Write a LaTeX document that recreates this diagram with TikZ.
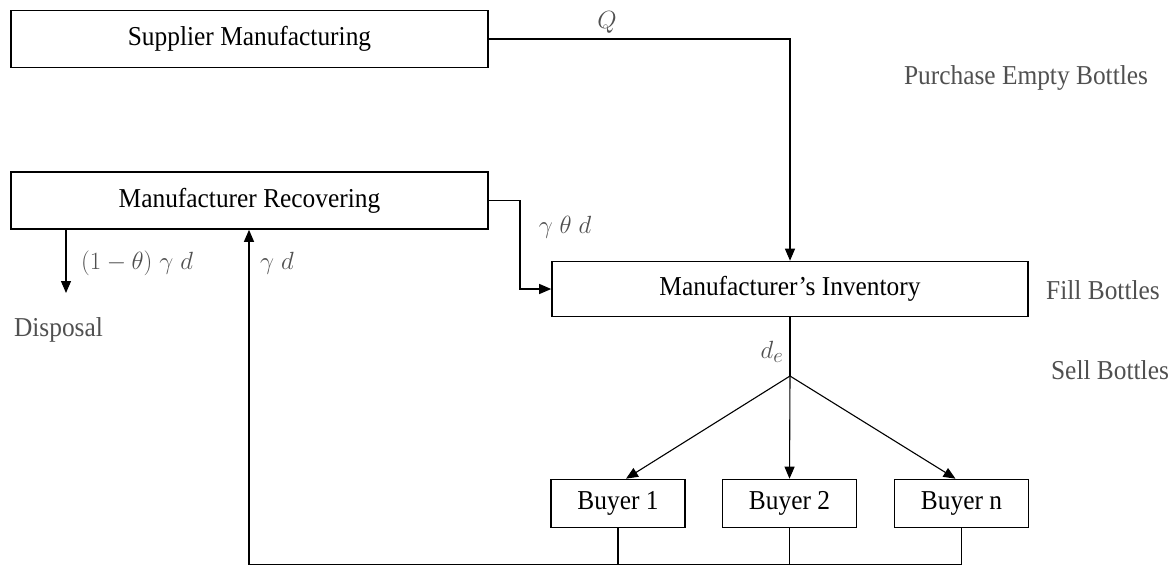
\documentclass[tikz,border=0pt]{standalone}
\usepackage{fontspec}
\setmainfont{Liberation Serif}[FakeStretch=0.93]
\usetikzlibrary{arrows.meta}
\definecolor{labelgrey}{RGB}{80,80,80}
\tikzset{
  boxnode/.style={draw, line width=1.6pt, inner sep=0pt, align=center,
    font=\fontsize{27.3}{32}\selectfont},
  mainbox/.style={boxnode, minimum width=477pt, minimum height=57pt},
  invbox/.style={boxnode, minimum width=476pt, minimum height=55pt},
  buyerbox/.style={boxnode, minimum width=134pt, minimum height=48pt},
  flow/.style={line width=1.1pt},
  arr/.style={flow, -{Triangle[length=12pt,width=10pt]}},
  sidelabel/.style={text=labelgrey, inner sep=0pt, font=\fontsize{27.3}{32}\selectfont},
  mathlabel/.style={text=labelgrey, inner sep=0pt, font=\fontsize{26}{30}\selectfont}
}
\begin{document}
\begin{tikzpicture}[x=1pt,y=-1pt]
\useasboundingbox (0,0) rectangle (1169,566);
% boxes
\node[mainbox] (sup) at (249.5,39) {Supplier Manufacturing};
\node[mainbox] (rec) at (249.5,200.5) {Manufacturer Recovering};
\node[invbox] (inv) at (790,289) {Manufacturer’s Inventory};
\node[buyerbox] (b1) at (618,503.5) {Buyer 1};
\node[buyerbox] (b2) at (789.5,503.5) {Buyer 2};
\node[buyerbox] (bn) at (961.5,503.5) {Buyer n};
% side labels
\node[sidelabel] (pur) at (1026,78) {Purchase Empty Bottles};
\node[sidelabel] (fill) at (1103,290) {Fill Bottles};
\node[sidelabel] (sell) at (1110,370) {Sell Bottles};
\node[sidelabel] (disp) at (58.5,330) {Disposal};
% coordinates
\coordinate (J) at (790,376);
\coordinate (ret) at (249,564.5);
\coordinate (dend) at (66,293);
\coordinate (gtd) at (520,200.5);
% connectors
\draw[arr] (sup.east) -| (inv.north);
\draw[arr] (rec.east) -- (gtd) |- (inv.west);
\draw[arr] (rec.south -| dend) -- (dend);
\draw[flow] (inv.south) -- (J);
\draw[arr] (J) -- ([xshift=8pt]b1.north);
\draw[arr] (J) -- (b2.north);
\draw[arr] (J) -- ([xshift=-6pt]bn.north);
\draw[flow] (b1.south) -- (b1.south |- ret);
\draw[flow] (b2.south) -- (b2.south |- ret);
\draw[arr] (bn.south) |- (ret) -- (ret |- rec.south);
% math labels
\node[mathlabel] (lQ) at (607,22) {$Q$};
\node[mathlabel] (lgtd) at (565,227) {$\gamma\;\theta\;d$};
\node[mathlabel] (ldisp) at (137,263) {$(1-\theta)\;\gamma\;d$};
\node[mathlabel] (lgd) at (277,263) {$\gamma\;d$};
\node[mathlabel, font=\fontsize{28}{32}\selectfont] (lde) at (772,352) {$d_e$};
\end{tikzpicture}
\end{document}
